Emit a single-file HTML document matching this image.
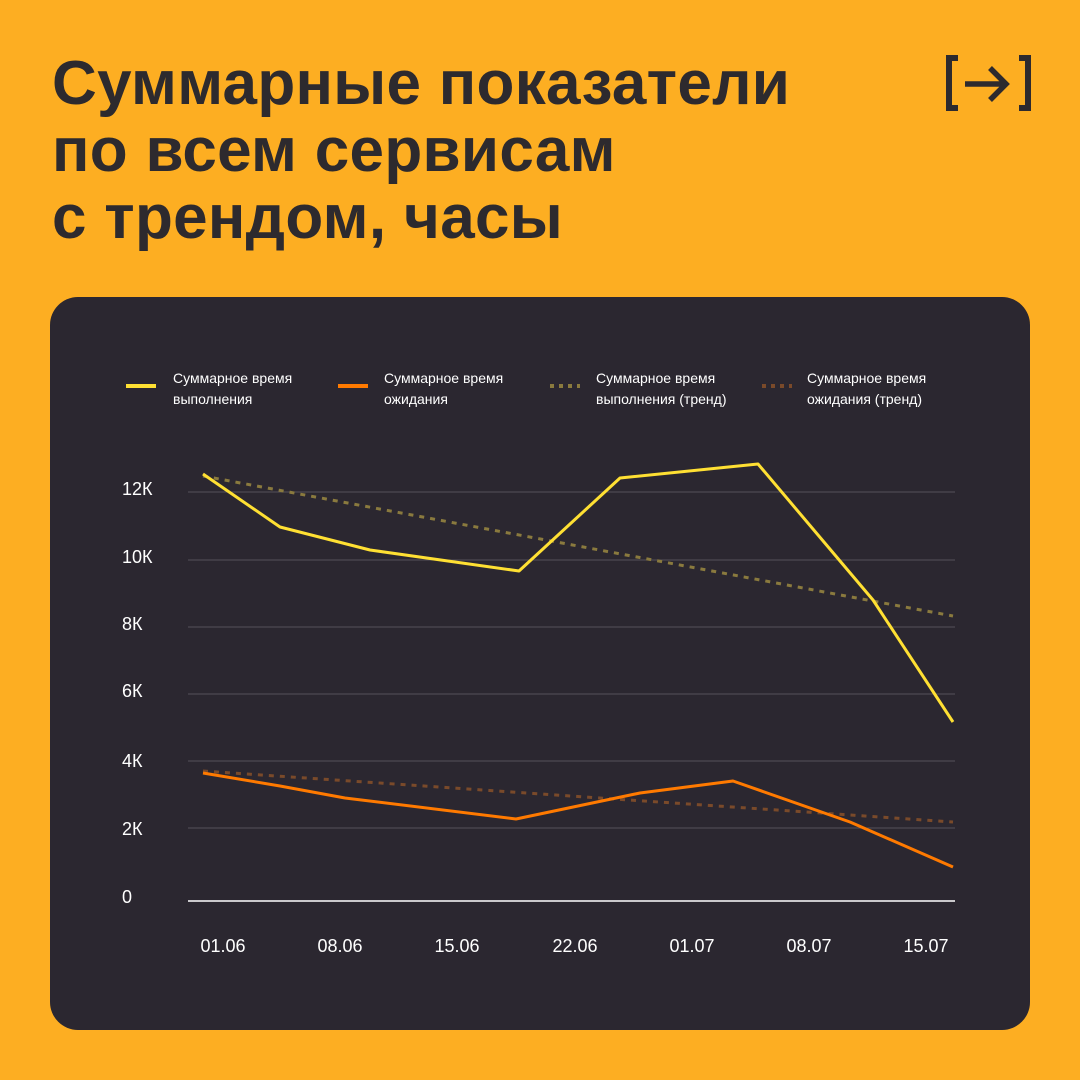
<!DOCTYPE html>
<html><head><meta charset="utf-8"><style>
body{margin:0;width:1080px;height:1080px;background:#FDAE22;font-family:"Liberation Sans",sans-serif;overflow:hidden;position:relative}
h1{position:absolute;left:52px;top:50px;margin:0;font-size:62px;line-height:67px;font-weight:bold;color:#2d2a2e;letter-spacing:0.3px}
.card{position:absolute;left:50px;top:297px;width:980px;height:733px;background:#2b2730;border-radius:28px}
</style></head><body>
<h1>Суммарные показатели<br>по всем сервисам<br>с трендом, часы</h1>
<svg style="position:absolute;left:940px;top:48px" width="100" height="70" viewBox="0 0 100 70">
<path d="M18 10 H9 V60 H18" fill="none" stroke="#2d2a2e" stroke-width="6"/>
<path d="M79 10 H88 V60 H79" fill="none" stroke="#2d2a2e" stroke-width="6"/>
<path d="M25 36 H66 M50 20 L66 36 L50 52" fill="none" stroke="#2d2a2e" stroke-width="5.5"/>
</svg>
<div class="card"></div>
<svg style="position:absolute;left:0;top:0" width="1080" height="1080">
<g font-size="14" fill="#fff">
<line x1="126" y1="386" x2="156" y2="386" stroke="#FFE033" stroke-width="4"/>
<text x="173" y="383">Суммарное время</text><text x="173" y="404">выполнения</text>
<line x1="338" y1="386" x2="368" y2="386" stroke="#FF7A00" stroke-width="4"/>
<text x="384" y="383">Суммарное время</text><text x="384" y="404">ожидания</text>
<line x1="550" y1="386" x2="580" y2="386" stroke="#8a7a3e" stroke-width="4" stroke-dasharray="4 5"/>
<text x="596" y="383">Суммарное время</text><text x="596" y="404">выполнения (тренд)</text>
<line x1="762" y1="386" x2="792" y2="386" stroke="#7a4a2a" stroke-width="4" stroke-dasharray="4 5"/>
<text x="807" y="383">Суммарное время</text><text x="807" y="404">ожидания (тренд)</text>
</g>
<g stroke="#55515a" stroke-width="1">
<line x1="188" x2="955" y1="492" y2="492"/><line x1="188" x2="955" y1="560" y2="560"/>
<line x1="188" x2="955" y1="627" y2="627"/><line x1="188" x2="955" y1="694" y2="694"/>
<line x1="188" x2="955" y1="761" y2="761"/><line x1="188" x2="955" y1="828" y2="828"/>
</g>
<line x1="188" x2="955" y1="901" y2="901" stroke="#fff" stroke-width="1.5"/>
<g font-size="18" fill="#fff">
<text x="122" y="495">12К</text><text x="122" y="563">10К</text><text x="122" y="630">8К</text>
<text x="122" y="697">6К</text><text x="122" y="767">4К</text><text x="122" y="835">2К</text><text x="122" y="903">0</text>
</g>
<g font-size="18" fill="#fff" text-anchor="middle">
<text x="223" y="952">01.06</text><text x="340" y="952">08.06</text><text x="457" y="952">15.06</text>
<text x="575" y="952">22.06</text><text x="692" y="952">01.07</text><text x="809" y="952">08.07</text><text x="926" y="952">15.07</text>
</g>
<line x1="203" y1="476" x2="953" y2="616" stroke="#8a7a3e" stroke-width="3" stroke-dasharray="5 6"/>
<line x1="203" y1="771" x2="953" y2="822" stroke="#7a4a2a" stroke-width="3" stroke-dasharray="5 6"/>
<polyline points="203,474 280,527 370,550 519,571 620,478 758,464 873,600 953,722" fill="none" stroke="#FFE033" stroke-width="3" stroke-linejoin="round"/>
<polyline points="203,773 280,786 345,798 516,819 640,793 733,781 850,822 953,867" fill="none" stroke="#FF7A00" stroke-width="3" stroke-linejoin="round"/>
</svg>
</body></html>
